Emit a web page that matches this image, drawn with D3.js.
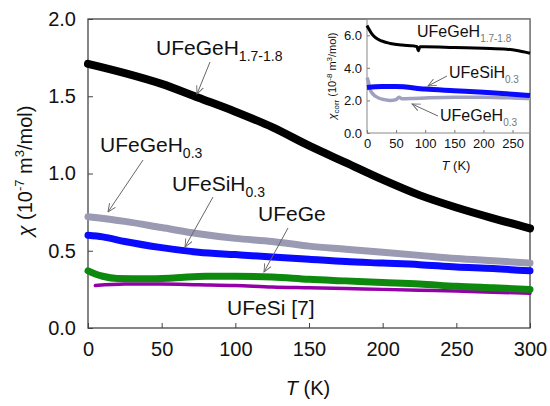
<!DOCTYPE html>
<html>
<head>
<meta charset="utf-8">
<script src="https://cdn.jsdelivr.net/npm/d3@7"></script>
<style>
  body { margin: 0; background: #fff; }
  text { font-family: Arial, "Liberation Sans", sans-serif; fill: #111; }
</style>
</head>
<body>
<svg id="chart"></svg>
<script>
// main panel: chi (1e-7 m3/mol) vs T (K)
const tBlack = [0, 25, 50, 75, 100, 125, 150, 175, 200, 225, 250, 275, 300];
const uFeGeH18 = [1.71, 1.65, 1.58, 1.49, 1.40, 1.30, 1.18, 1.07, 0.96, 0.86, 0.78, 0.71, 0.645];

const tGray = [0, 25, 50, 75, 100, 125, 150, 175, 200, 225, 250, 275, 300];
const uFeGeH03 = [0.72, 0.69, 0.65, 0.61, 0.58, 0.56, 0.53, 0.51, 0.49, 0.47, 0.45, 0.435, 0.42];

const tBlue = [0, 10, 25, 50, 75, 100, 125, 150, 175, 200, 225, 250, 275, 300];
const uFeSiH03 = [0.60, 0.59, 0.56, 0.52, 0.49, 0.475, 0.46, 0.445, 0.43, 0.42, 0.41, 0.395, 0.385, 0.37];

const tGreen = [0, 5, 10, 20, 40, 60, 80, 100, 125, 150, 175, 200, 225, 250, 275, 300];
const uFeGe = [0.37, 0.35, 0.335, 0.32, 0.318, 0.325, 0.335, 0.335, 0.33, 0.315, 0.305, 0.295, 0.285, 0.27, 0.26, 0.25];

const tPurple = [5, 25, 50, 75, 100, 125, 150, 175, 200, 225, 250, 275, 300];
const uFeSi = [0.275, 0.285, 0.285, 0.28, 0.275, 0.265, 0.26, 0.255, 0.25, 0.245, 0.24, 0.232, 0.225];

const xTicks = [0, 50, 100, 150, 200, 250, 300];
const yTicks = [0, 0.5, 1.0, 1.5, 2.0];

// inset: chi_corr (1e-8 m3/mol)
const tInBlack = [0, 3, 8, 15, 25, 40, 60, 80, 86, 88, 91, 100, 150, 200, 240, 260, 280];
const inGeH18 = [6.6, 6.4, 6.1, 5.85, 5.65, 5.5, 5.4, 5.35, 5.3, 5.05, 5.3, 5.3, 5.25, 5.2, 5.15, 5.05, 4.9];

const tInBlue = [0, 25, 50, 100, 150, 200, 250, 280];
const inSiH03 = [2.8, 2.85, 2.85, 2.7, 2.6, 2.5, 2.38, 2.3];

const tInGray = [0, 2, 5, 10, 20, 30, 40, 50, 55, 60, 80, 100, 150, 200, 250, 280];
const inGeH03 = [3.4, 3.2, 2.7, 2.4, 2.15, 2.05, 2.0, 2.05, 2.2, 2.1, 2.12, 2.15, 2.2, 2.2, 2.15, 2.1];

const inXTicks = [0, 50, 100, 150, 200, 250];
const inYTicks = [0, 2, 4, 6];

const width = 550, height = 406;
const svg = d3.select('#chart').attr('width', width).attr('height', height);

const x = d3.scaleLinear().domain([0, 300]).range([88, 530]);
const y = d3.scaleLinear().domain([0, 2]).range([328, 19]);

const zip = (ts, vs) => ts.map((t, i) => [t, vs[i]]);

// arrow marker
svg.append('defs').append('marker')
    .attr('id', 'arr')
    .attr('viewBox', '0 -5 10 10')
    .attr('refX', 9).attr('refY', 0)
    .attr('markerWidth', 9).attr('markerHeight', 9)
    .attr('markerUnits', 'userSpaceOnUse')
    .attr('orient', 'auto')
  .append('path')
    .attr('d', 'M0,-4L9,0L0,4')
    .attr('fill', 'none')
    .attr('stroke', '#666')
    .attr('stroke-width', 1);

// axes
const xAxis = d3.axisBottom(x).tickValues(xTicks).tickSize(-5).tickPadding(14).tickFormat(d3.format('d'));
const yAxis = d3.axisLeft(y).tickValues(yTicks).tickSize(-5).tickPadding(12).tickFormat(d3.format('.1f'));

const gx = svg.append('g').attr('transform', 'translate(0,328)').call(xAxis);
const gy = svg.append('g').attr('transform', 'translate(88,0)').call(yAxis);
[gx, gy].forEach(g => {
  g.select('.domain').remove();
  g.selectAll('.tick line').attr('stroke', '#444');
  g.selectAll('.tick text').attr('font-size', 20).attr('fill', '#111')
    .attr('font-family', 'Arial, "Liberation Sans", sans-serif');
});
gx.selectAll('.tick text').attr('dy', '0.71em');

// frame
svg.append('rect')
    .attr('x', 88).attr('y', 19)
    .attr('width', 442).attr('height', 309)
    .attr('fill', 'none').attr('stroke', '#444').attr('stroke-width', 1.3);

const line = d3.line().x(d => x(d[0])).y(d => y(d[1])).curve(d3.curveMonotoneX);

const series = [
  {t: tPurple, v: uFeSi, color: '#9400a8', w: 3.5},
  {t: tGreen, v: uFeGe, color: '#0d8a0d', w: 7},
  {t: tBlue, v: uFeSiH03, color: '#0a0aff', w: 7},
  {t: tGray, v: uFeGeH03, color: '#9a9ab2', w: 7},
  {t: tBlack, v: uFeGeH18, color: '#000', w: 8},
];

svg.append('g').selectAll('path')
  .data(series)
  .join('path')
    .attr('d', s => line(zip(s.t, s.v)))
    .attr('fill', 'none')
    .attr('stroke', s => s.color)
    .attr('stroke-width', s => s.w)
    .attr('stroke-linecap', 'round')
    .attr('stroke-linejoin', 'round');

// labels with subscripts
const label = (px, py, main, sub, size, subSize, subColor) => {
  const t = svg.append('text').attr('x', px).attr('y', py).attr('font-size', size);
  t.append('tspan').text(main);
  if (sub) {
    t.append('tspan').attr('dy', size * 0.3).attr('font-size', subSize)
      .attr('fill', subColor || '#111').text(sub);
  }
};
const arrow = (x1, y1, x2, y2) => {
  svg.append('line')
    .attr('x1', x1).attr('y1', y1).attr('x2', x2).attr('y2', y2)
    .attr('stroke', '#666').attr('stroke-width', 1)
    .attr('marker-end', 'url(#arr)');
};

label(156, 55, 'UFeGeH', '1.7-1.8', 21, 14);
arrow(210, 62, 197, 94);
label(100, 152, 'UFeGeH', '0.3', 21, 14);
arrow(143, 160, 108, 212);
label(172, 191, 'UFeSiH', '0.3', 21, 14);
arrow(213, 197, 185, 247);
label(258, 221, 'UFeGe', null, 21);
arrow(288, 228, 264, 272);
label(227, 315, 'UFeSi [7]', null, 21);

// axis titles
const yt = svg.append('text')
    .attr('transform', 'translate(32,171) rotate(-90)')
    .attr('text-anchor', 'middle')
    .attr('font-size', 20);
yt.append('tspan').attr('font-style', 'italic').text('χ');
yt.append('tspan').text(' (10');
yt.append('tspan').attr('dy', -8).attr('font-size', 13).text('-7');
yt.append('tspan').attr('dy', 8).text(' m');
yt.append('tspan').attr('dy', -8).attr('font-size', 13).text('3');
yt.append('tspan').attr('dy', 8).text('/mol)');

const xt = svg.append('text')
    .attr('x', 308).attr('y', 395)
    .attr('text-anchor', 'middle')
    .attr('font-size', 20);
xt.append('tspan').attr('font-style', 'italic').text('T');
xt.append('tspan').text(' (K)');

// ---------- inset ----------
const ix = d3.scaleLinear().domain([0, 280]).range([367, 530]);
const iy = d3.scaleLinear().domain([0, 7]).range([133, 19]);

svg.append('rect')
    .attr('x', 367).attr('y', 19.7)
    .attr('width', 162.3).attr('height', 113.3)
    .attr('fill', '#fff');

const ixAxis = d3.axisBottom(ix).tickValues(inXTicks).tickSize(-3).tickPadding(6).tickFormat(d3.format('d'));
const iyAxis = d3.axisLeft(iy).tickValues(inYTicks).tickSize(-3).tickPadding(5).tickFormat(d3.format('.1f'));
const gix = svg.append('g').attr('transform', 'translate(0,133)').call(ixAxis);
const giy = svg.append('g').attr('transform', 'translate(367,0)').call(iyAxis);
[gix, giy].forEach(g => {
  g.select('.domain').remove();
  g.selectAll('.tick line').attr('stroke', '#777');
  g.selectAll('.tick text').attr('font-size', 13).attr('fill', '#222')
    .attr('font-family', 'Arial, "Liberation Sans", sans-serif');
});

svg.append('rect')
    .attr('x', 367).attr('y', 19)
    .attr('width', 163).attr('height', 114)
    .attr('fill', 'none').attr('stroke', '#888').attr('stroke-width', 1);

const iline = d3.line().x(d => ix(d[0])).y(d => iy(d[1])).curve(d3.curveMonotoneX);
const inset = [
  {t: tInGray, v: inGeH03, color: '#a0a0c0', w: 3.5},
  {t: tInBlue, v: inSiH03, color: '#0a0aff', w: 5},
  {t: tInBlack, v: inGeH18, color: '#000', w: 3},
];
svg.append('g').selectAll('path')
  .data(inset)
  .join('path')
    .attr('d', s => iline(zip(s.t, s.v)))
    .attr('fill', 'none')
    .attr('stroke', s => s.color)
    .attr('stroke-width', s => s.w)
    .attr('stroke-linejoin', 'round');

label(417, 37, 'UFeGeH', '1.7-1.8', 16, 10, '#777');
label(449, 78, 'UFeSiH', '0.3', 16, 10, '#777');
arrow(447, 76, 428, 86);
label(440, 121, 'UFeGeH', '0.3', 16, 10, '#777');
arrow(438, 116, 412, 104);

const iyt = svg.append('text')
    .attr('transform', 'translate(336,76) rotate(-90)')
    .attr('text-anchor', 'middle')
    .attr('font-size', 11);
iyt.append('tspan').attr('font-style', 'italic').text('χ');
iyt.append('tspan').attr('dy', 3).attr('font-size', 8).text('corr');
iyt.append('tspan').attr('dy', -3).text(' (10');
iyt.append('tspan').attr('dy', -4).attr('font-size', 8).text('-8');
iyt.append('tspan').attr('dy', 4).text(' m');
iyt.append('tspan').attr('dy', -4).attr('font-size', 8).text('3');
iyt.append('tspan').attr('dy', 4).text('/mol)');

const ixt = svg.append('text')
    .attr('x', 456).attr('y', 170)
    .attr('text-anchor', 'middle')
    .attr('font-size', 13);
ixt.append('tspan').attr('font-style', 'italic').text('T');
ixt.append('tspan').text(' (K)');
</script>
</body>
</html>
